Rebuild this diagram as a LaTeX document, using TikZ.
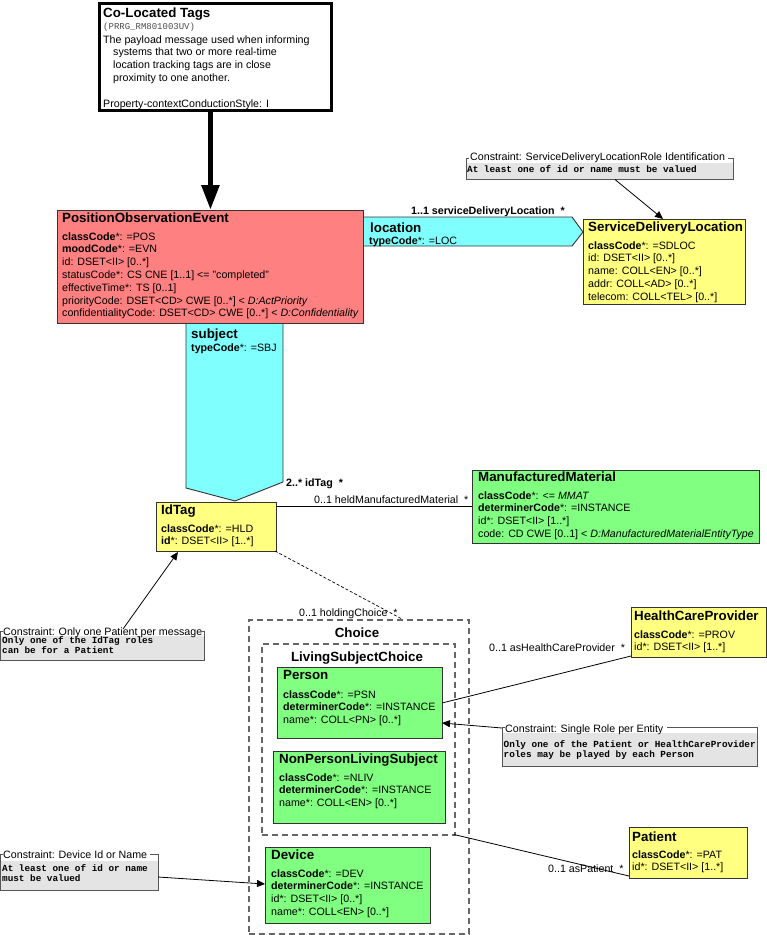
\documentclass[tikz,border=0pt]{standalone}
\usepackage{fontspec}
\setmainfont{Liberation Sans}
\newfontfamily\monoff{Liberation Mono}
\usetikzlibrary{arrows.meta}
\definecolor{poered}{HTML}{FF8080}
\definecolor{actcyan}{HTML}{80FFFF}
\definecolor{roleyel}{HTML}{FFFF80}
\definecolor{entgrn}{HTML}{80FF80}
\definecolor{cgray}{HTML}{E4E4E4}
\definecolor{bord}{HTML}{333333}
\definecolor{cbordc}{HTML}{555555}
\definecolor{dashgray}{HTML}{666666}
\newcommand\attrf{\fontsize{10.67}{12.8}\selectfont}
\newcommand\titf{\fontsize{13.33}{16}\selectfont\bfseries}
\newcommand\monf{\monoff\bfseries\fontsize{9.33}{10.7}\selectfont}
\newcommand\ml[1]{\begin{tabular}[t]{@{}l@{}}#1\end{tabular}}
\begin{document}
\begin{tikzpicture}[x=1pt,y=-1pt,
  cls/.style={draw=bord, line width=0.9pt, anchor=north west, inner sep=0pt},
  ttl/.style={anchor=base west, inner sep=0pt, font=\titf},
  att/.style={anchor=base west, inner sep=0pt, font=\attrf},
  lbl/.style={anchor=base west, inner sep=0pt, font=\attrf},
  blbl/.style={anchor=base west, inner sep=0pt, font=\attrf\bfseries},
  mono/.style={anchor=base west, inner sep=0pt, font=\monf},
  conn/.style={line width=0.8pt},
  arr/.style={conn, -{Triangle[length=8pt,width=7pt]}},
  cframe/.style={draw=cbordc, line width=0.9pt},
  shapeact/.style={draw=bord, line width=0.9pt, fill=actcyan},
  choicebox/.style={draw=dashgray, line width=1.5pt, dash pattern=on 6pt off 4pt, anchor=north west, inner sep=0pt}
]
\useasboundingbox[fill=white] (0,0) rectangle (767,935);

% ---------- Co-Located Tags ----------
\node[cls, draw=black, line width=3pt, fill=white, minimum width=232pt, minimum height=107pt] (top) at (97.5,1.5) {};
\node[ttl] (toptitle) at (103,17.5) {Co-Located Tags};
\node[mono, font=\monoff\fontsize{9}{10}\selectfont, text=black!70] (topid) at (103,29.5) {(PRRG\_RM801003UV)};
\node[att] (topdesc1) at (103,43) {The payload message used when informing};
\node[att] (topdesc2) at (113,55.8) {\ml{systems that two or more real-time\\location tracking tags are in close\\proximity to one another.}};
\node[att] (topprop) at (103,107) {Property-contextConductionStyle: I};

% ---------- act relationship shapes ----------
\draw[shapeact] (358,217) -- (572,217) -- (583,232) -- (572,246) -- (358,246) -- cycle;
\draw[shapeact] (186,318) -- (283,318) -- (283,482) -- (235,501) -- (186,488) -- cycle;

% ---------- PositionObservationEvent ----------
\node[cls, fill=poered, minimum width=306pt, minimum height=113pt] (poe) at (57,210) {};
\node[ttl] (poet) at (62,222) {PositionObservationEvent};
\node[att] (poea) at (62,240) {\ml{\textbf{classCode}*: =POS\\\textbf{moodCode}*: =EVN\\id: DSET<II> [0..*]\\statusCode*: CS CNE [1..1] <= "completed"\\effectiveTime*: TS [0..1]\\priorityCode: DSET<CD> CWE [0..*] < \textit{D:ActPriority}\\confidentialityCode: DSET<CD> CWE [0..*] < \textit{D:Confidentiality}}};

\draw[line width=5.5pt, -{Triangle[length=25pt,width=17pt]}] (top.south -| poe.north) -- (poe.north);

% location
\node[ttl] (loct) at (370,232) {location};
\node[lbl] (locc) at (369,244.3) {\textbf{typeCode}*: =LOC};
\node[blbl] (locl) at (411,214) {1..1 serviceDeliveryLocation\ \ *};

% subject
\node[ttl] (subt) at (191,338) {subject};
\node[lbl] (subc) at (191,351) {\textbf{typeCode}*: =SBJ};
\node[blbl] (subl) at (286,486) {2..* idTag\ \ *};

% ---------- ServiceDeliveryLocation ----------
\node[cls, fill=roleyel, minimum width=162pt, minimum height=85pt] (sdl) at (583,219) {};
\node[ttl] (sdlt) at (588,231) {ServiceDeliveryLocation};
\node[att] (sdla) at (588,249) {\ml{\textbf{classCode}*: =SDLOC\\id: DSET<II> [0..*]\\name: COLL<EN> [0..*]\\addr: COLL<AD> [0..*]\\telecom: COLL<TEL> [0..*]}};

% constraint SDL
\node[anchor=north west, inner sep=0pt, fill=cgray, minimum width=267pt, minimum height=16pt] (csdl) at (466,163) {};
\node[lbl] (csdlt) at (470,160) {Constraint: ServiceDeliveryLocationRole Identification};
\path (csdlt.east) ++(3,0) coordinate (csdlte);
\coordinate (csdltl) at (466,158);
\draw[cframe] (469,158) -- (csdltl) -- (466,179) -- (733,179) -- (733,158) -- (csdlte |- csdltl);
\node[mono] (csdlm) at (467,172) {At least one of id or name must be valued};
\coordinate (csdlp) at (615,179.5);
\coordinate (sdlp) at (663,219);
\draw[arr] (csdlp) -- (sdlp);

% ---------- IdTag ----------
\node[cls, fill=roleyel, minimum width=120pt, minimum height=49pt] (idtag) at (156,502) {};
\node[ttl] (idtagt) at (161,514) {IdTag};
\node[att] (idtaga) at (161,532) {\ml{\textbf{classCode}*: =HLD\\\textbf{id}*: DSET<II> [1..*]}};

% ---------- ManufacturedMaterial ----------
\node[cls, fill=entgrn, minimum width=287pt, minimum height=73pt] (mm) at (472,470) {};
\node[ttl] (mmt) at (478,481) {ManufacturedMaterial};
\node[att] (mma) at (478,499) {\ml{\textbf{classCode}*: <= \textit{MMAT}\\\textbf{determinerCode}*: =INSTANCE\\id*: DSET<II> [1..*]\\code: CD CWE [0..1] < \textit{D:ManufacturedMaterialEntityType}}};

\coordinate (hm1) at (276,506);
\coordinate (hm2) at (472,506);
\draw[conn] (hm1) -- (hm2);
\node[lbl] (hml) at (314,503) {0..1 heldManufacturedMaterial\ \ *};

% ---------- Choice ----------
\node[choicebox, minimum width=220pt, minimum height=314pt] (choice) at (248,619) {};
\node[ttl, anchor=base] (choicet) at (357,637) {Choice};
\node[choicebox, minimum width=193pt, minimum height=191pt] (lsc) at (261,643) {};
\node[ttl, anchor=base] (lsct) at (357,661) {LivingSubjectChoice};

\coordinate (hc1) at (275,551);
\coordinate (hc2) at (402,619);
\draw[line width=0.7pt, dash pattern=on 3pt off 2pt] (hc1) -- (hc2);
\node[lbl] (hcl) at (299,616.5) {0..1 holdingChoice\ \ *};

% Person
\node[cls, fill=entgrn, minimum width=165pt, minimum height=71pt] (person) at (277,667) {};
\node[ttl] (persont) at (283,679) {Person};
\node[att] (persona) at (283,698) {\ml{\textbf{classCode}*: =PSN\\\textbf{determinerCode}*: =INSTANCE\\name*: COLL<PN> [0..*]}};

% NonPersonLivingSubject
\node[cls, fill=entgrn, minimum width=172pt, minimum height=72pt] (npls) at (273,751) {};
\node[ttl] (nplst) at (279,763) {NonPersonLivingSubject};
\node[att] (nplsa) at (279,781) {\ml{\textbf{classCode}*: =NLIV\\\textbf{determinerCode}*: =INSTANCE\\name*: COLL<EN> [0..*]}};

% Device
\node[cls, fill=entgrn, minimum width=165pt, minimum height=76pt] (device) at (265,847) {};
\node[ttl] (devicet) at (271,859) {Device};
\node[att] (devicea) at (271,877) {\ml{\textbf{classCode}*: =DEV\\\textbf{determinerCode}*: =INSTANCE\\id*: DSET<II> [0..*]\\name*: COLL<EN> [0..*]}};

% ---------- HealthCareProvider ----------
\node[cls, fill=roleyel, minimum width=135pt, minimum height=50pt] (hcp) at (631,607) {};
\node[ttl] (hcpt) at (634,620) {HealthCareProvider};
\node[att] (hcpa) at (634,638) {\ml{\textbf{classCode}*: =PROV\\id*: DSET<II> [1..*]}};
\node[lbl] (hcpl) at (489,651) {0..1 asHealthCareProvider\ \ *};
\coordinate (hcpp) at (631,656);
\coordinate (personp) at (442,703);
\draw[conn] (hcpp) -- (personp);

% ---------- Patient ----------
\node[cls, fill=roleyel, minimum width=118pt, minimum height=51pt] (patient) at (629,827) {};
\node[ttl] (patientt) at (632,841) {Patient};
\node[att] (patienta) at (632,858) {\ml{\textbf{classCode}*: =PAT\\id*: DSET<II> [1..*]}};
\node[lbl] (patl) at (548,872) {0..1 asPatient\ \ *};
\coordinate (lscp) at (454,834.5);
\coordinate (patp) at (629,876);
\draw[conn] (lscp) -- (patp);

% ---------- Constraint: Only one Patient ----------
\node[anchor=north west, inner sep=0pt, fill=cgray, minimum width=204pt, minimum height=24pt] (cpat) at (0.5,636) {};
\node[lbl] (cpatt) at (3,635) {Constraint: Only one Patient per message};
\draw[cframe] (3,631) -- (0.5,631) -- (0.5,660) -- (204,660) -- (204,631) -- (201.5,631);
\node[mono] (cpatm) at (2,643) {\ml{Only one of the IdTag roles\\can be for a Patient}};
\coordinate (cpatp) at (123,629);
\coordinate (idtagp) at (178,552);
\draw[arr] (cpatp) -- (idtagp);

% ---------- Constraint: Single Role ----------
\node[anchor=north west, inner sep=0pt, fill=cgray, minimum width=255pt, minimum height=33pt] (csre) at (502,733) {};
\node[lbl] (csret) at (505,732.5) {Constraint: Single Role per Entity};
\path (csret.east) ++(3,0) coordinate (csrete);
\coordinate (csretl) at (502,727);
\draw[cframe] (505,727) -- (csretl) -- (502,766) -- (757,766) -- (757,727) -- (csrete |- csretl);
\node[mono] (csrem) at (503.5,747) {\ml{Only one of the Patient or HealthCareProvider\\roles may be played by each Person}};
\coordinate (csrep) at (502,728);
\coordinate (personq) at (442,723);
\draw[arr] (csrep) -- (personq);

% ---------- Constraint: Device ----------
\node[anchor=north west, inner sep=0pt, fill=cgray, minimum width=157.5pt, minimum height=29pt] (cdev) at (0.5,861) {};
\node[lbl] (cdevt) at (3,858.5) {Constraint: Device Id or Name};
\path (cdevt.east) ++(3,0) coordinate (cdevte);
\coordinate (cdevtl) at (0.5,854);
\draw[cframe] (3,854) -- (cdevtl) -- (0.5,890) -- (158,890) -- (158,854) -- (cdevte |- cdevtl);
\node[mono] (cdevm) at (2,871) {\ml{At least one of id or name\\must be valued}};
\coordinate (cdevp) at (158,877);
\coordinate (devicep) at (265,884);
\draw[arr] (cdevp) -- (devicep);

\end{tikzpicture}
\end{document}
